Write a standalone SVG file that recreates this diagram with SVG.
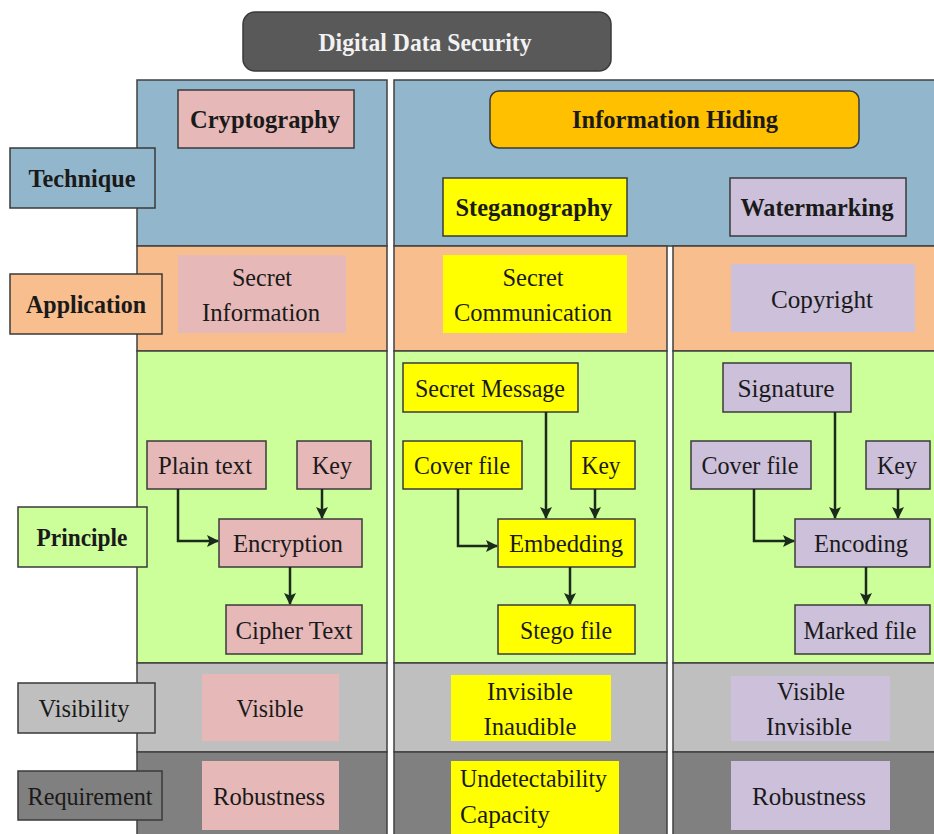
<svg xmlns="http://www.w3.org/2000/svg" width="934" height="834" viewBox="0 0 934 834">
<defs>
<style>
text{font-family:"Liberation Serif","Times New Roman",serif;font-size:25px;fill:#1a1a1a;text-anchor:middle;dominant-baseline:central}
.b{font-weight:bold}
.box{stroke:#3a3a3a;stroke-width:1.5}
.soft{stroke:none}
.row{stroke:#404040;stroke-width:1.5}
.tech{fill:#92B6CB}.app{fill:#F9BE8E}.pri{fill:#CCFF99}.vis{fill:#BFBFBF}.req{fill:#808080}
.cr{fill:#E6B8B7}.st{fill:#FFFF00}.wm{fill:#CCC0DA}
.con{fill:none;stroke:#1B2B1B;stroke-width:2.5;marker-end:url(#ah)}
</style>
<marker id="ah" markerWidth="12" markerHeight="12" refX="11" refY="6" orient="auto" markerUnits="userSpaceOnUse">
<path d="M0,0 L12,6 L0,12 L2.5,6 Z" fill="#1B2B1B"/>
</marker>
</defs>
<rect width="934" height="834" fill="#ffffff"/>

<!-- background panels -->
<g id="panels">
<rect class="row tech" x="137" y="80" width="250" height="166"/>
<rect class="row app" x="137" y="246" width="250" height="105"/>
<rect class="row pri" x="137" y="351" width="250" height="312"/>
<rect class="row vis" x="137" y="663" width="250" height="89"/>
<rect class="row req" x="137" y="752" width="250" height="90"/>

<rect class="row tech" x="394" y="80" width="550" height="166"/>
<rect class="row app" x="394" y="246" width="273" height="105"/>
<rect class="row pri" x="394" y="351" width="273" height="312"/>
<rect class="row vis" x="394" y="663" width="273" height="89"/>
<rect class="row req" x="394" y="752" width="273" height="90"/>
<rect class="row app" x="673" y="246" width="271" height="105"/>
<rect class="row pri" x="673" y="351" width="271" height="312"/>
<rect class="row vis" x="673" y="663" width="271" height="89"/>
<rect class="row req" x="673" y="752" width="271" height="90"/>
</g>

<g id="title">
<rect x="243" y="12" width="368" height="59" rx="12" fill="#595959" stroke="#3a3a3a" stroke-width="1.5"/>
<text class="b" x="425" y="42" textLength="213" lengthAdjust="spacingAndGlyphs" style="fill:#f2f2f2">Digital Data Security</text>
</g>

<!-- row labels -->
<g id="lbl-technique"><rect class="box tech" x="10" y="148" width="145" height="60"/><text class="b" x="82" y="178" textLength="107" lengthAdjust="spacingAndGlyphs">Technique</text></g>
<g id="lbl-application"><rect class="box app" x="10" y="274" width="152" height="60"/><text class="b" x="86" y="304" textLength="120" lengthAdjust="spacingAndGlyphs">Application</text></g>
<g id="lbl-principle"><rect class="box pri" x="18" y="507" width="129" height="60"/><text class="b" x="82" y="537" textLength="91" lengthAdjust="spacingAndGlyphs">Principle</text></g>
<g id="lbl-visibility"><rect class="box vis" x="18" y="683" width="137" height="50"/><text x="84" y="708" textLength="91" lengthAdjust="spacingAndGlyphs">Visibility</text></g>
<g id="lbl-requirement"><rect class="box req" x="18" y="771" width="144" height="49"/><text x="90" y="796" textLength="125" lengthAdjust="spacingAndGlyphs">Requirement</text></g>

<!-- technique row -->
<g id="cryptography"><rect class="box cr" x="178" y="90" width="176" height="58"/><text class="b" x="265" y="119" textLength="150" lengthAdjust="spacingAndGlyphs">Cryptography</text></g>
<g id="info-hiding"><rect class="box" x="490" y="91" width="369" height="57" rx="9" fill="#FFC000"/><text class="b" x="675" y="119" textLength="206" lengthAdjust="spacingAndGlyphs">Information Hiding</text></g>
<g id="steganography"><rect class="box st" x="443" y="178" width="184" height="58"/><text class="b" x="534" y="207" textLength="157" lengthAdjust="spacingAndGlyphs">Steganography</text></g>
<g id="watermarking"><rect class="box wm" x="730" y="178" width="176" height="58"/><text class="b" x="817" y="207" textLength="153" lengthAdjust="spacingAndGlyphs">Watermarking</text></g>

<!-- application row -->
<g id="secret-information"><rect class="soft cr" x="178" y="255" width="168" height="78"/><text x="262" y="277" textLength="60" lengthAdjust="spacingAndGlyphs">Secret</text><text x="261" y="312" textLength="118" lengthAdjust="spacingAndGlyphs">Information</text></g>
<g id="secret-communication"><rect class="soft st" x="443" y="255" width="184" height="78"/><text x="533" y="277" textLength="61" lengthAdjust="spacingAndGlyphs">Secret</text><text x="533" y="312" textLength="158" lengthAdjust="spacingAndGlyphs">Communication</text></g>
<g id="copyright"><rect class="soft wm" x="731" y="264" width="184" height="68"/><text x="822" y="299" textLength="102" lengthAdjust="spacingAndGlyphs">Copyright</text></g>

<!-- principle: cryptography -->
<g id="plain-text"><rect class="box cr" x="147" y="441" width="119" height="48"/><text x="205" y="465" textLength="94" lengthAdjust="spacingAndGlyphs">Plain text</text></g>
<g id="c-key"><rect class="box cr" x="297" y="441" width="74" height="48"/><text x="332" y="465" textLength="40" lengthAdjust="spacingAndGlyphs">Key</text></g>
<g id="encryption"><rect class="box cr" x="219" y="519" width="143" height="48"/><text x="288" y="543" textLength="110" lengthAdjust="spacingAndGlyphs">Encryption</text></g>
<g id="cipher-text"><rect class="box cr" x="226" y="605" width="136" height="49"/><text x="294" y="630" textLength="117" lengthAdjust="spacingAndGlyphs">Cipher Text</text></g>

<!-- principle: steganography -->
<g id="secret-message"><rect class="box st" x="403" y="363" width="175" height="49"/><text x="490" y="388" textLength="150" lengthAdjust="spacingAndGlyphs">Secret Message</text></g>
<g id="s-cover"><rect class="box st" x="403" y="441" width="119" height="48"/><text x="462" y="465" textLength="96" lengthAdjust="spacingAndGlyphs">Cover file</text></g>
<g id="s-key"><rect class="box st" x="571" y="441" width="64" height="48"/><text x="601" y="465" textLength="39" lengthAdjust="spacingAndGlyphs">Key</text></g>
<g id="embedding"><rect class="box st" x="498" y="519" width="137" height="48"/><text x="566" y="543" textLength="114" lengthAdjust="spacingAndGlyphs">Embedding</text></g>
<g id="stego-file"><rect class="box st" x="498" y="605" width="137" height="49"/><text x="566" y="630" textLength="92" lengthAdjust="spacingAndGlyphs">Stego file</text></g>

<!-- principle: watermarking -->
<g id="signature"><rect class="box wm" x="723" y="363" width="128" height="49"/><text x="786" y="388" textLength="97" lengthAdjust="spacingAndGlyphs">Signature</text></g>
<g id="w-cover"><rect class="box wm" x="691" y="441" width="120" height="48"/><text x="750" y="465" textLength="97" lengthAdjust="spacingAndGlyphs">Cover file</text></g>
<g id="w-key"><rect class="box wm" x="866" y="441" width="64" height="48"/><text x="897" y="465" textLength="40" lengthAdjust="spacingAndGlyphs">Key</text></g>
<g id="encoding"><rect class="box wm" x="795" y="519" width="135" height="48"/><text x="861" y="543" textLength="94" lengthAdjust="spacingAndGlyphs">Encoding</text></g>
<g id="marked-file"><rect class="box wm" x="795" y="605" width="135" height="49"/><text x="860" y="630" textLength="113" lengthAdjust="spacingAndGlyphs">Marked file</text></g>

<!-- visibility row -->
<g id="visible"><rect class="soft cr" x="202" y="674" width="137" height="67"/><text x="270" y="708" textLength="67" lengthAdjust="spacingAndGlyphs">Visible</text></g>
<g id="invisible-inaudible"><rect class="soft st" x="451" y="675" width="160" height="66"/><text x="530" y="691" textLength="86" lengthAdjust="spacingAndGlyphs">Invisible</text><text x="530" y="726" textLength="93" lengthAdjust="spacingAndGlyphs">Inaudible</text></g>
<g id="visible-invisible"><rect class="soft wm" x="731" y="676" width="159" height="65"/><text x="811" y="691" textLength="68" lengthAdjust="spacingAndGlyphs">Visible</text><text x="809" y="726" textLength="86" lengthAdjust="spacingAndGlyphs">Invisible</text></g>

<!-- requirement row -->
<g id="robustness-c"><rect class="soft cr" x="202" y="761" width="137" height="69"/><text x="269" y="796" textLength="112" lengthAdjust="spacingAndGlyphs">Robustness</text></g>
<g id="undetectability"><rect class="soft st" x="451" y="761" width="168" height="73"/><text x="460" y="778" textLength="147" lengthAdjust="spacingAndGlyphs" style="text-anchor:start">Undetectability</text><text x="460" y="814" textLength="90" lengthAdjust="spacingAndGlyphs" style="text-anchor:start">Capacity</text></g>
<g id="robustness-w"><rect class="soft wm" x="731" y="761" width="159" height="69"/><text x="809" y="796" textLength="114" lengthAdjust="spacingAndGlyphs">Robustness</text></g>

<!-- connectors -->
<g id="connectors">
<path class="con" d="M178,489 V541 H218"/>
<path class="con" d="M322,489 V518"/>
<path class="con" d="M290,567 V604"/>
<path class="con" d="M546,412 V518"/>
<path class="con" d="M595,489 V518"/>
<path class="con" d="M458,489 V546 H497"/>
<path class="con" d="M570,567 V604"/>
<path class="con" d="M835,412 V518"/>
<path class="con" d="M898,489 V518"/>
<path class="con" d="M754,489 V541 H794"/>
<path class="con" d="M866,567 V604"/>
</g>
</svg>
